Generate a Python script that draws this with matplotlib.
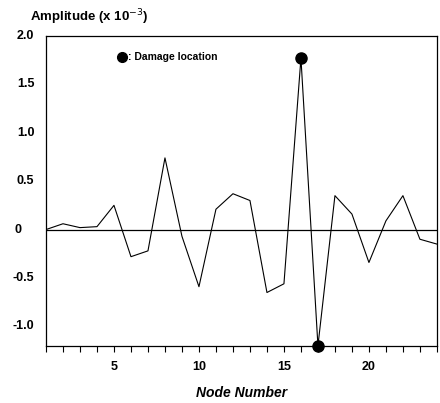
import matplotlib
import numpy as np

matplotlib.use("Agg")
import matplotlib.pyplot as plt


NODES = np.arange(1, 25)
AMPLITUDE = [0.0, 0.06, 0.02, 0.03, 0.25, -0.28, -0.22, 0.74, -0.07, -0.59,
             0.21, 0.37, 0.30, -0.65, -0.56, 1.77, -1.20, 0.35, 0.16, -0.34,
             0.09, 0.35, -0.10, -0.15]
DAMAGE_NODES = [16, 17]
X_TICKS = [5, 10, 15, 20]
Y_TICKS = [-1.0, -0.5, 0.0, 0.5, 1.0, 1.5, 2.0]
Y_TICK_LABELS = ["-1.0", "-0.5", "0", "0.5", "1.0", "1.5", "2.0"]

plt.rcParams["font.family"] = ["Liberation Sans", "DejaVu Sans"]

fig = plt.figure(figsize=(4.4, 4.03), dpi=100)
ax = fig.add_axes([0.1045, 0.142, 0.8885, 0.769])

ax.plot(NODES, AMPLITUDE, color="black", linewidth=0.8)
ax.axhline(0, color="black", linewidth=0.9)

damage_idx = [list(NODES).index(n) for n in DAMAGE_NODES]
ax.plot([NODES[i] for i in damage_idx], [AMPLITUDE[i] for i in damage_idx],
        "o", color="black", markersize=8, clip_on=False, zorder=5)

ax.set_xlim(1, 24)
ax.set_ylim(-1.2, 2.0)

ax.set_xticks(NODES, minor=True)
ax.set_xticks(X_TICKS)
ax.set_xticklabels([str(t) for t in X_TICKS], fontsize=9, fontweight="bold")
ax.tick_params(axis="x", which="both", direction="out", length=4, width=0.8, pad=7)

# y labels drawn by hand: the zero label sits further left than the rest
ax.set_yticks(Y_TICKS)
ax.set_yticklabels([])
ax.tick_params(axis="y", length=0)
for val, lab in zip(Y_TICKS, Y_TICK_LABELS):
    x_pos = -0.062 if lab == "0" else -0.03
    ax.text(x_pos, val, lab, transform=ax.get_yaxis_transform(),
            ha="right", va="center", fontsize=9, fontweight="bold")

for spine in ax.spines.values():
    spine.set_linewidth(0.9)

ax.set_xlabel("Node Number", fontsize=10, style="italic", fontweight="bold", labelpad=9)
fig.text(0.068, 0.958, "Amplitude (x 10$^{-3}$)", fontsize=9.5, fontweight="bold",
         ha="left", va="center")

# marker key inside the plot area
ax.plot([5.5], [1.78], "o", color="black", markersize=7)
ax.text(5.8, 1.78, ": Damage location", fontsize=7.5, fontweight="bold",
        va="center", ha="left")

fig.savefig("out.png", dpi=100)
